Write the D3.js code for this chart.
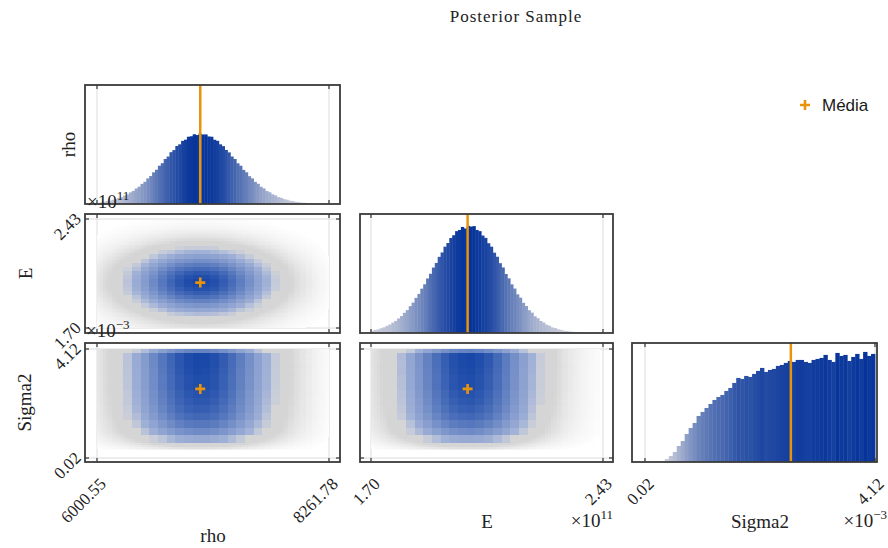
<!DOCTYPE html>
<head>
<meta charset="utf-8">
<script src="https://d3js.org/d3.v7.min.js"></script>
<style>
body{ margin:0; background:#fff; }
text{ font-family: "Liberation Serif", serif; fill:#222; }
text.tick{ font-size:17px; }
text.axisLabel{ font-size:19px; }
text.expo{ font-size:19px; }
text.title{ font-size:17px; letter-spacing:1px; }
text.legend{ font-family: "Liberation Sans", Arial, sans-serif; font-size:17px; fill:#1a1a1a; }
</style>
</head>
<body>
<script>
const width = 888, height = 548;

// variables of the posterior sample
const varNames = ['rho', 'E', 'Sigma2'];
const rhoTicks = [6000.55, 8261.78];
const eTicks = [1.70, 2.43];       // x 10^11
const sigmaTicks = [0.02, 4.12];   // x 10^-3
const exponents = [null, '11', '−3'];
const means = [7007, 2.004, 2.62];

// histogram counts (bins span the tick range)
const rhoCounts = [18, 24, 33, 41, 48, 60, 70, 87, 99, 121, 138, 166, 186, 221, 246, 287, 316, 364, 398, 451,
  488, 545, 581, 641, 676, 738, 768, 826, 850, 899, 916, 958, 965, 993, 982, 1000, 990, 991, 962, 958,
  915, 900, 850, 824, 770, 735, 676, 641, 580, 545, 486, 452, 396, 365, 315, 288, 245, 222, 185, 167,
  138, 123, 98, 88, 69, 61, 47, 42, 31, 27, 19, 18, 12, 11, 7, 6, 4, 3, 2, 1];
const eCounts = [22, 29, 35, 45, 53, 67, 79, 97, 113, 136, 158, 188, 214, 251, 284, 328, 365, 414, 455, 509,
  553, 611, 654, 711, 752, 806, 840, 887, 913, 951, 962, 990, 976, 1000, 994, 998, 962, 951, 910, 888,
  838, 806, 750, 712, 652, 612, 551, 510, 454, 415, 361, 330, 282, 252, 213, 190, 156, 138, 112, 98,
  78, 68, 52, 46, 35, 30, 22, 19, 14, 12, 9, 7, 5, 4, 3, 2, 2, 1, 1, 0];
const sigmaCounts = [0, 0, 0, 0, 10, 30, 60, 100, 160, 210, 280, 340, 390, 460, 500, 540, 580, 620, 650, 670,
  710, 740, 790, 840, 830, 860, 850, 880, 910, 940, 900, 920, 930, 960, 970, 990, 1010, 1000, 1020, 1020,
  1000, 990, 1020, 1030, 1040, 1070, 1020, 1000, 1090, 1060, 1070, 1010, 1050, 1080, 1030, 1100, 1060, 1080];

// how high the tallest bar reaches in each diagonal panel
const histPeakFrac = [0.59, 0.90, 0.925];
// 2d histogram: number of 1d bins merged into one heatmap cell
const groupSize = [3, 3, 4];

const orange = '#e8930c';
const cols = [[85, 340], [360, 613], [632, 877]];
const rows = [[85, 204], [214, 333], [343, 462]];
const xTickPx = [[97, 329], [371, 603], [645, 875]];
const yTickPx = [null, [328, 219], [458, 349]];

const ticks = [rhoTicks, eTicks, sigmaTicks];
const counts = [rhoCounts, eCounts, sigmaCounts];

const xScales = ticks.map((t, k) => d3.scaleLinear().domain(t).range(xTickPx[k]));
const yScales = ticks.map((t, k) => k == 0 ? null : d3.scaleLinear().domain(t).range(yTickPx[k]));
const edges = ticks.map((t, k) => d3.range(counts[k].length + 1)
  .map(i => t[0] + i * (t[1] - t[0]) / counts[k].length));

const histColor = t => d3.interpolateRgb('#d2d4dd', '#06349a')(Math.pow(t, 0.8));
const fogColor = a => d3.interpolateRgb('#ffffff', '#a8a8a8')(a);
const heatColor = t => d3.interpolateRgb('#b9c4df', '#1847a8')(Math.pow(t, 0.8));
const fmt = d3.format('.2f');

var svg = d3.select('body').append('svg')
  .attr('width', width)
  .attr('height', height);

const defs = svg.append('defs');

function panel(r, c) {
  const id = `clip-${r}-${c}`;
  defs.append('clipPath').attr('id', id)
    .append('rect')
    .attr('x', cols[c][0]).attr('y', rows[r][0])
    .attr('width', cols[c][1] - cols[c][0]).attr('height', rows[r][1] - rows[r][0]);
  const g = svg.append('g').attr('class', `panel p${r}${c}`);
  return { g: g, body: g.append('g').attr('clip-path', `url(#${id})`) };
}

function grid(g, r, c, withY) {
  const [x0, x1] = cols[c], [y0, y1] = rows[r];
  const xs = xScales[c];
  ticks[c].forEach(t => {
    g.append('line').attr('x1', xs(t)).attr('x2', xs(t)).attr('y1', y0).attr('y2', y1)
      .attr('stroke', '#dcdcdc').attr('stroke-width', 1);
  });
  if (withY) {
    const ys = yScales[r];
    ticks[r].forEach(t => {
      g.append('line').attr('x1', x0).attr('x2', x1).attr('y1', ys(t)).attr('y2', ys(t))
        .attr('stroke', '#dcdcdc').attr('stroke-width', 1);
    });
  }
}

function borderAndTicks(g, r, c, withY) {
  const [x0, x1] = cols[c], [y0, y1] = rows[r];
  const xs = xScales[c];
  ticks[c].forEach(t => {
    g.append('line').attr('x1', xs(t)).attr('x2', xs(t)).attr('y1', y0).attr('y2', y0 + 4)
      .attr('stroke', '#333').attr('stroke-width', 1.2);
    g.append('line').attr('x1', xs(t)).attr('x2', xs(t)).attr('y1', y1 - 4).attr('y2', y1)
      .attr('stroke', '#333').attr('stroke-width', 1.2);
  });
  if (withY) {
    const ys = yScales[r];
    ticks[r].forEach(t => {
      g.append('line').attr('x1', x0).attr('x2', x0 + 4).attr('y1', ys(t)).attr('y2', ys(t))
        .attr('stroke', '#333').attr('stroke-width', 1.2);
      g.append('line').attr('x1', x1 - 4).attr('x2', x1).attr('y1', ys(t)).attr('y2', ys(t))
        .attr('stroke', '#333').attr('stroke-width', 1.2);
    });
  }
  g.append('rect')
    .attr('x', x0).attr('y', y0).attr('width', x1 - x0).attr('height', y1 - y0)
    .attr('fill', 'none').attr('stroke', '#3a3a3a').attr('stroke-width', 1.8);
}

function plus(g, x, y, size) {
  g.append('path')
    .attr('d', `M${x - size},${y}H${x + size}M${x},${y - size}V${y + size}`)
    .attr('stroke', orange).attr('stroke-width', 2.6).attr('fill', 'none');
}

// diagonal: histograms
for (let k = 0; k < 3; k++) {
  const p = panel(k, k);
  grid(p.body, k, k, false);
  const xs = xScales[k];
  const cnt = counts[k], mx = d3.max(cnt);
  const ys = d3.scaleLinear().domain([0, mx / histPeakFrac[k]]).range([rows[k][1], rows[k][0]]);
  const bins = cnt.map((v, i) => ({ v: v, x0: edges[k][i], x1: edges[k][i + 1] })).filter(d => d.v > 0);
  p.body.selectAll('rect.bar')
    .data(bins)
    .enter()
    .append('rect')
    .attr('class', 'bar')
    .attr('x', d => xs(d.x0))
    .attr('width', d => xs(d.x1) - xs(d.x0) + 0.4)
    .attr('y', d => ys(d.v))
    .attr('height', d => ys(0) - ys(d.v))
    .attr('fill', d => histColor(d.v / mx));
  p.body.append('line')
    .attr('x1', xs(means[k])).attr('x2', xs(means[k]))
    .attr('y1', rows[k][0]).attr('y2', rows[k][1])
    .attr('stroke', orange).attr('stroke-width', 2.5);
  borderAndTicks(p.g, k, k, false);
}

// lower triangle: sample cloud + 2d histogram
function groups(cnt, size) {
  const out = [];
  for (let i = 0; i < cnt.length; i += size) {
    out.push({ i0: i, i1: Math.min(i + size, cnt.length), v: d3.sum(cnt.slice(i, i + size)) });
  }
  return out;
}

for (let r = 1; r < 3; r++) {
  for (let c = 0; c < r; c++) {
    const p = panel(r, c);
    grid(p.body, r, c, true);
    const xs = xScales[c], ys = yScales[r];
    const cx = counts[c], cy = counts[r];
    const mxx = d3.max(cx), mxy = d3.max(cy);
    const ex = edges[c], ey = edges[r];

    // scattered samples, drawn as a grey haze whose strength follows the density
    const fine = [];
    cx.forEach((vx, i) => cy.forEach((vy, j) => {
      const d = (vx / mxx) * (vy / mxy);
      const a = Math.min(0.48, 2.4 * Math.sqrt(d) - 0.02);
      if (a > 0.02) fine.push({ i: i, j: j, a: a });
    }));
    p.body.append('g').attr('shape-rendering', 'crispEdges')
      .selectAll('rect')
      .data(fine)
      .enter()
      .append('rect')
      .attr('x', d => xs(ex[d.i]))
      .attr('width', d => xs(ex[d.i + 1]) - xs(ex[d.i]))
      .attr('y', d => ys(ey[d.j + 1]))
      .attr('height', d => ys(ey[d.j]) - ys(ey[d.j + 1]))
      .attr('fill', d => fogColor(d.a));

    // heatmap of the dense core
    const gx = groups(cx, groupSize[c]), gy = groups(cy, groupSize[r]);
    const gmx = d3.max(gx, d => d.v), gmy = d3.max(gy, d => d.v);
    const cells = [];
    gx.forEach(a => gy.forEach(b => {
      const d = (a.v / gmx) * (b.v / gmy);
      if (d > 0.1) cells.push({ a: a, b: b, d: d });
    }));
    p.body.append('g').attr('shape-rendering', 'crispEdges')
      .selectAll('rect')
      .data(cells)
      .enter()
      .append('rect')
      .attr('x', d => xs(ex[d.a.i0]))
      .attr('width', d => xs(ex[d.a.i1]) - xs(ex[d.a.i0]))
      .attr('y', d => ys(ey[d.b.i1]))
      .attr('height', d => ys(ey[d.b.i0]) - ys(ey[d.b.i1]))
      .attr('fill', d => heatColor((d.d - 0.1) / 0.9))
      .attr('fill-opacity', d => Math.min(1, 0.3 + (d.d - 0.1) / 0.12));

    plus(p.body, xs(means[c]), ys(means[r]), 5);
    borderAndTicks(p.g, r, c, true);
  }
}

// tick labels
for (let c = 0; c < 3; c++) {
  ticks[c].forEach(t => {
    svg.append('text')
      .attr('class', 'tick')
      .attr('transform', `translate(${xScales[c](t) + 6},${481}) rotate(-45)`)
      .attr('text-anchor', 'end')
      .attr('dominant-baseline', 'central')
      .text(fmt(t));
  });
}
for (let r = 1; r < 3; r++) {
  ticks[r].forEach(t => {
    svg.append('text')
      .attr('class', 'tick')
      .attr('transform', `translate(${78},${yScales[r](t) - 3}) rotate(-45)`)
      .attr('text-anchor', 'end')
      .attr('dominant-baseline', 'central')
      .text(fmt(t));
  });
}

// exponent labels
function expo(x, y, anchor, e) {
  const t = svg.append('text').attr('class', 'expo')
    .attr('x', x).attr('y', y).attr('text-anchor', anchor);
  t.append('tspan').text('×10');
  t.append('tspan').attr('dy', -8).style('font-size', '13px').text(e);
}
expo(87, 208, 'start', exponents[1]);
expo(86, 337, 'start', exponents[2]);
expo(613, 527, 'end', exponents[1]);
expo(887, 527, 'end', exponents[2]);

// axis labels, centred on the tick span
const xLabelY = [542, 528, 528];
varNames.forEach((n, k) => {
  svg.append('text')
    .attr('class', 'axisLabel')
    .attr('x', d3.mean(xTickPx[k]))
    .attr('y', xLabelY[k])
    .attr('text-anchor', 'middle')
    .text(n);
});
const yLabelX = [75, 32, 31];
varNames.forEach((n, k) => {
  const cy = (rows[k][0] + rows[k][1]) / 2;
  svg.append('text')
    .attr('class', 'axisLabel')
    .attr('transform', `translate(${yLabelX[k]},${cy}) rotate(-90)`)
    .attr('text-anchor', 'middle')
    .text(n);
});

svg.append('text')
  .attr('class', 'title')
  .attr('x', 516)
  .attr('y', 22)
  .attr('text-anchor', 'middle')
  .text('Posterior Sample');

// legend
plus(svg, 805, 105, 5);
svg.append('text')
  .attr('class', 'legend')
  .attr('x', 822)
  .attr('y', 111)
  .text('Média');
</script>
</body>
